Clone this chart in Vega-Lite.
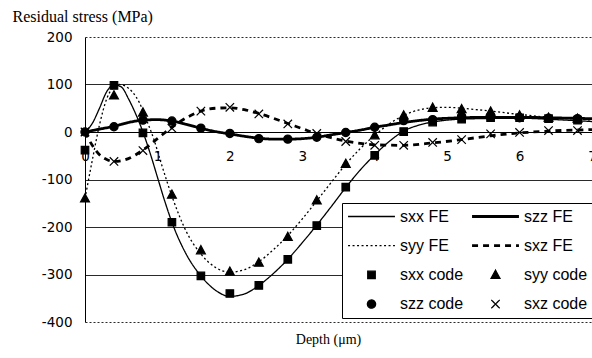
{
  "$schema": "https://vega.github.io/schema/vega-lite/v6.json",
  "autosize": {"type": "none"},
  "padding": {"left": 85, "top": 37, "right": 0, "bottom": 36},
  "width": 507,
  "height": 285,
  "background": "white",
  "config": {"view": {"stroke": null}},
  "datasets": {
    "fe": [
      {"d": 0, "s": 0, "series": "sxx FE"}, {"d": 0.1, "s": 18, "series": "sxx FE"}, {"d": 0.2, "s": 50, "series": "sxx FE"}, {"d": 0.3, "s": 85, "series": "sxx FE"}, {"d": 0.4, "s": 99, "series": "sxx FE"}, {"d": 0.5, "s": 95, "series": "sxx FE"}, {"d": 0.6, "s": 70, "series": "sxx FE"}, {"d": 0.7, "s": 38, "series": "sxx FE"}, {"d": 0.8, "s": 0, "series": "sxx FE"}, {"d": 0.9, "s": -45, "series": "sxx FE"}, {"d": 1.0, "s": -95, "series": "sxx FE"}, {"d": 1.1, "s": -145, "series": "sxx FE"}, {"d": 1.2, "s": -190, "series": "sxx FE"}, {"d": 1.4, "s": -258, "series": "sxx FE"}, {"d": 1.6, "s": -303, "series": "sxx FE"}, {"d": 1.8, "s": -333, "series": "sxx FE"}, {"d": 2.0, "s": -346, "series": "sxx FE"}, {"d": 2.2, "s": -341, "series": "sxx FE"}, {"d": 2.4, "s": -323, "series": "sxx FE"}, {"d": 2.6, "s": -298, "series": "sxx FE"}, {"d": 2.8, "s": -268, "series": "sxx FE"}, {"d": 3.0, "s": -233, "series": "sxx FE"}, {"d": 3.2, "s": -196, "series": "sxx FE"}, {"d": 3.4, "s": -157, "series": "sxx FE"}, {"d": 3.6, "s": -117, "series": "sxx FE"}, {"d": 3.8, "s": -80, "series": "sxx FE"}, {"d": 4.0, "s": -48, "series": "sxx FE"}, {"d": 4.2, "s": -20, "series": "sxx FE"}, {"d": 4.4, "s": 2, "series": "sxx FE"}, {"d": 4.6, "s": 14, "series": "sxx FE"}, {"d": 4.8, "s": 21, "series": "sxx FE"}, {"d": 5.0, "s": 25, "series": "sxx FE"}, {"d": 5.4, "s": 28, "series": "sxx FE"}, {"d": 6.0, "s": 29, "series": "sxx FE"}, {"d": 6.5, "s": 26, "series": "sxx FE"}, {"d": 7.0, "s": 22, "series": "sxx FE"},

      {"d": 0, "s": 0, "series": "szz FE"}, {"d": 0.2, "s": 6, "series": "szz FE"}, {"d": 0.4, "s": 12, "series": "szz FE"}, {"d": 0.6, "s": 20, "series": "szz FE"}, {"d": 0.8, "s": 25, "series": "szz FE"}, {"d": 1.0, "s": 26, "series": "szz FE"}, {"d": 1.2, "s": 23, "series": "szz FE"}, {"d": 1.4, "s": 16, "series": "szz FE"}, {"d": 1.6, "s": 8, "series": "szz FE"}, {"d": 1.8, "s": 1, "series": "szz FE"}, {"d": 2.0, "s": -4, "series": "szz FE"}, {"d": 2.2, "s": -9, "series": "szz FE"}, {"d": 2.4, "s": -13, "series": "szz FE"}, {"d": 2.6, "s": -15, "series": "szz FE"}, {"d": 2.8, "s": -15, "series": "szz FE"}, {"d": 3.0, "s": -14, "series": "szz FE"}, {"d": 3.2, "s": -11, "series": "szz FE"}, {"d": 3.4, "s": -6, "series": "szz FE"}, {"d": 3.6, "s": -1, "series": "szz FE"}, {"d": 3.8, "s": 4, "series": "szz FE"}, {"d": 4.0, "s": 10, "series": "szz FE"}, {"d": 4.2, "s": 15, "series": "szz FE"}, {"d": 4.4, "s": 20, "series": "szz FE"}, {"d": 4.6, "s": 24, "series": "szz FE"}, {"d": 4.8, "s": 27, "series": "szz FE"}, {"d": 5.2, "s": 30, "series": "szz FE"}, {"d": 5.6, "s": 31, "series": "szz FE"}, {"d": 6.0, "s": 31, "series": "szz FE"}, {"d": 6.4, "s": 30, "series": "szz FE"}, {"d": 7.0, "s": 28, "series": "szz FE"},

      {"d": 0, "s": -140, "series": "syy FE"}, {"d": 0.1, "s": -60, "series": "syy FE"}, {"d": 0.2, "s": 15, "series": "syy FE"}, {"d": 0.3, "s": 70, "series": "syy FE"}, {"d": 0.4, "s": 95, "series": "syy FE"}, {"d": 0.47, "s": 100, "series": "syy FE"}, {"d": 0.55, "s": 97, "series": "syy FE"}, {"d": 0.65, "s": 85, "series": "syy FE"}, {"d": 0.75, "s": 62, "series": "syy FE"}, {"d": 0.85, "s": 25, "series": "syy FE"}, {"d": 0.95, "s": -15, "series": "syy FE"}, {"d": 1.05, "s": -65, "series": "syy FE"}, {"d": 1.2, "s": -135, "series": "syy FE"}, {"d": 1.4, "s": -210, "series": "syy FE"}, {"d": 1.6, "s": -257, "series": "syy FE"}, {"d": 1.8, "s": -285, "series": "syy FE"}, {"d": 2.0, "s": -295, "series": "syy FE"}, {"d": 2.2, "s": -290, "series": "syy FE"}, {"d": 2.4, "s": -273, "series": "syy FE"}, {"d": 2.6, "s": -248, "series": "syy FE"}, {"d": 2.8, "s": -218, "series": "syy FE"}, {"d": 3.0, "s": -183, "series": "syy FE"}, {"d": 3.2, "s": -145, "series": "syy FE"}, {"d": 3.4, "s": -106, "series": "syy FE"}, {"d": 3.6, "s": -68, "series": "syy FE"}, {"d": 3.8, "s": -35, "series": "syy FE"}, {"d": 4.0, "s": -7, "series": "syy FE"}, {"d": 4.2, "s": 17, "series": "syy FE"}, {"d": 4.4, "s": 35, "series": "syy FE"}, {"d": 4.6, "s": 46, "series": "syy FE"}, {"d": 4.8, "s": 51, "series": "syy FE"}, {"d": 5.0, "s": 52, "series": "syy FE"}, {"d": 5.2, "s": 50, "series": "syy FE"}, {"d": 5.6, "s": 44, "series": "syy FE"}, {"d": 6.0, "s": 37, "series": "syy FE"}, {"d": 6.4, "s": 31, "series": "syy FE"}, {"d": 7.0, "s": 25, "series": "syy FE"},

      {"d": 0, "s": 0, "series": "sxz FE"}, {"d": 0.1, "s": -28, "series": "sxz FE"}, {"d": 0.2, "s": -48, "series": "sxz FE"}, {"d": 0.3, "s": -58, "series": "sxz FE"}, {"d": 0.4, "s": -62, "series": "sxz FE"}, {"d": 0.6, "s": -56, "series": "sxz FE"}, {"d": 0.8, "s": -38, "series": "sxz FE"}, {"d": 1.0, "s": -14, "series": "sxz FE"}, {"d": 1.2, "s": 10, "series": "sxz FE"}, {"d": 1.4, "s": 30, "series": "sxz FE"}, {"d": 1.6, "s": 44, "series": "sxz FE"}, {"d": 1.8, "s": 50, "series": "sxz FE"}, {"d": 2.0, "s": 51, "series": "sxz FE"}, {"d": 2.2, "s": 47, "series": "sxz FE"}, {"d": 2.4, "s": 39, "series": "sxz FE"}, {"d": 2.6, "s": 29, "series": "sxz FE"}, {"d": 2.8, "s": 18, "series": "sxz FE"}, {"d": 3.0, "s": 7, "series": "sxz FE"}, {"d": 3.2, "s": -4, "series": "sxz FE"}, {"d": 3.4, "s": -12, "series": "sxz FE"}, {"d": 3.6, "s": -19, "series": "sxz FE"}, {"d": 3.8, "s": -24, "series": "sxz FE"}, {"d": 4.0, "s": -27, "series": "sxz FE"}, {"d": 4.4, "s": -28, "series": "sxz FE"}, {"d": 4.8, "s": -23, "series": "sxz FE"}, {"d": 5.2, "s": -16, "series": "sxz FE"}, {"d": 5.6, "s": -8, "series": "sxz FE"}, {"d": 6.0, "s": -2, "series": "sxz FE"}, {"d": 6.4, "s": 2, "series": "sxz FE"}, {"d": 7.0, "s": 5, "series": "sxz FE"}
    ],
    "code": [
      {"d": 0, "s": -38, "series": "sxx code"}, {"d": 0.4, "s": 98, "series": "sxx code"}, {"d": 0.8, "s": -2, "series": "sxx code"}, {"d": 1.2, "s": -190, "series": "sxx code"}, {"d": 1.6, "s": -303, "series": "sxx code"}, {"d": 2.0, "s": -340, "series": "sxx code"}, {"d": 2.4, "s": -323, "series": "sxx code"}, {"d": 2.8, "s": -268, "series": "sxx code"}, {"d": 3.2, "s": -197, "series": "sxx code"}, {"d": 3.6, "s": -116, "series": "sxx code"}, {"d": 4.0, "s": -49, "series": "sxx code"}, {"d": 4.4, "s": 1, "series": "sxx code"}, {"d": 4.8, "s": 21, "series": "sxx code"}, {"d": 5.2, "s": 27, "series": "sxx code"}, {"d": 5.6, "s": 30, "series": "sxx code"}, {"d": 6.0, "s": 30, "series": "sxx code"}, {"d": 6.4, "s": 28, "series": "sxx code"}, {"d": 6.8, "s": 25, "series": "sxx code"},

      {"d": 0, "s": -140, "series": "syy code"}, {"d": 0.4, "s": 77, "series": "syy code"}, {"d": 0.8, "s": 41, "series": "syy code"}, {"d": 1.2, "s": -132, "series": "syy code"}, {"d": 1.6, "s": -249, "series": "syy code"}, {"d": 2.0, "s": -294, "series": "syy code"}, {"d": 2.4, "s": -275, "series": "syy code"}, {"d": 2.8, "s": -221, "series": "syy code"}, {"d": 3.2, "s": -144, "series": "syy code"}, {"d": 3.6, "s": -67, "series": "syy code"}, {"d": 4.0, "s": -7, "series": "syy code"}, {"d": 4.4, "s": 35, "series": "syy code"}, {"d": 4.8, "s": 51, "series": "syy code"}, {"d": 5.2, "s": 48, "series": "syy code"}, {"d": 5.6, "s": 43, "series": "syy code"}, {"d": 6.0, "s": 35, "series": "syy code"}, {"d": 6.4, "s": 30, "series": "syy code"}, {"d": 6.8, "s": 28, "series": "syy code"},

      {"d": 0, "s": 0, "series": "szz code"}, {"d": 0.4, "s": 11, "series": "szz code"}, {"d": 0.8, "s": 25, "series": "szz code"}, {"d": 1.2, "s": 23, "series": "szz code"}, {"d": 1.6, "s": 8, "series": "szz code"}, {"d": 2.0, "s": -3, "series": "szz code"}, {"d": 2.4, "s": -14, "series": "szz code"}, {"d": 2.8, "s": -15, "series": "szz code"}, {"d": 3.2, "s": -11, "series": "szz code"}, {"d": 3.6, "s": -1, "series": "szz code"}, {"d": 4.0, "s": 10, "series": "szz code"}, {"d": 4.4, "s": 24, "series": "szz code"}, {"d": 4.8, "s": 26, "series": "szz code"}, {"d": 5.2, "s": 33, "series": "szz code"}, {"d": 5.6, "s": 31, "series": "szz code"}, {"d": 6.0, "s": 30, "series": "szz code"}, {"d": 6.4, "s": 29, "series": "szz code"}, {"d": 6.8, "s": 28, "series": "szz code"},

      {"d": 0, "s": 0, "series": "sxz code"}, {"d": 0.4, "s": -62, "series": "sxz code"}, {"d": 0.8, "s": -39, "series": "sxz code"}, {"d": 1.2, "s": 8, "series": "sxz code"}, {"d": 1.6, "s": 44, "series": "sxz code"}, {"d": 2.0, "s": 52, "series": "sxz code"}, {"d": 2.4, "s": 38, "series": "sxz code"}, {"d": 2.8, "s": 17, "series": "sxz code"}, {"d": 3.2, "s": -3, "series": "sxz code"}, {"d": 3.6, "s": -20, "series": "sxz code"}, {"d": 4.0, "s": -28, "series": "sxz code"}, {"d": 4.4, "s": -28, "series": "sxz code"}, {"d": 4.8, "s": -22, "series": "sxz code"}, {"d": 5.2, "s": -16, "series": "sxz code"}, {"d": 5.6, "s": -4, "series": "sxz code"}, {"d": 6.0, "s": -1, "series": "sxz code"}, {"d": 6.4, "s": 3, "series": "sxz code"}, {"d": 6.8, "s": 3, "series": "sxz code"}
    ]
  },
  "encoding": {
    "x": {
      "field": "d", "type": "quantitative",
      "scale": {"domain": [0, 7], "nice": false, "zero": false},
      "axis": {
        "values": [0, 1, 2, 3, 4, 5, 6, 7],
        "offset": -190,
        "grid": false,
        "ticks": false, "tickSize": 0,
        "domainColor": "black", "domainWidth": 1,
        "labelFont": "DejaVu Sans", "labelFontSize": 13.5, "labelColor": "black",
        "labelPadding": 17, "labelFlush": false, "labelOverlap": false, "labelBound": false,
        "title": "Depth (μm)",
        "titleFont": "Liberation Serif", "titleFontSize": 14, "titleFontWeight": "normal", "titleColor": "black",
        "titleX": 243, "titleY": 211, "titleAlign": "center", "titleBaseline": "alphabetic", "titleAnchor": null
      }
    },
    "y": {
      "field": "s", "type": "quantitative",
      "scale": {"domain": [-400, 200], "nice": false, "zero": false},
      "axis": {
        "values": [-400, -300, -200, -100, 0, 100, 200],
        "labelExpr": "replace(datum.label, '\u2212', '-')",
        "grid": true,
        "gridColor": "#2a2a2a",
        "gridDash": {"condition": {"test": "datum.value == 200 || datum.value == -400", "value": [2, 2]}, "value": []},
        "ticks": false, "tickSize": 0,
        "domainColor": "black", "domainWidth": 1,
        "labelFont": "DejaVu Sans", "labelFontSize": 13.5, "labelColor": "black",
        "labelPadding": 13, "labelFlush": false, "labelOverlap": false,
        "title": "Residual stress (MPa)",
        "titleFont": "Liberation Serif", "titleFontSize": 16, "titleFontWeight": "normal", "titleColor": "black",
        "titleAngle": 0, "titleAlign": "left", "titleBaseline": "alphabetic",
        "titleX": -73, "titleY": -16
      }
    }
  },
  "layer": [
    {
      "data": {"name": "fe"},
      "transform": [{"filter": "datum.series == 'sxx FE' || datum.series == 'syy FE'"}],
      "mark": {"type": "line", "color": "black", "interpolate": "monotone", "strokeWidth": 1.3},
      "encoding": {
        "strokeDash": {
          "field": "series", "type": "nominal",
          "scale": {
            "domain": ["sxx FE", "szz FE", "syy FE", "sxz FE", "sxx code", "syy code", "szz code", "sxz code"],
            "range": [[1, 0], [1, 0], [2, 2.5], [6, 5], [1, 0], [1, 0], [1, 0], [1, 0]]
          },
          "legend": {
            "orient": "none", "legendX": 257, "legendY": 166, "columns": 2, "direction": "horizontal", "title": null,
            "strokeColor": "black", "fillColor": "white", "padding": 5,
            "clipHeight": 17, "rowPadding": 12.2, "columnPadding": 7, "labelOffset": 4,
            "labelFont": "Liberation Sans", "labelFontSize": 16, "labelColor": "black",
            "symbolSize": 2200, "symbolFillColor": "black", "symbolStrokeColor": "black", "symbolOpacity": 1, "symbolStrokeWidth": 1.5,
            "encode": {"symbols": {"update": {
              "fill": {"value": "black"}, "stroke": {"value": "black"}, "opacity": {"value": 1},
              "strokeWidth": {"signal": "((datum.value == 'szz FE' || datum.value == 'sxz FE') ? 2.8 : 1.3)"}
            }}}
          }
        }
      }
    },
    {
      "data": {"name": "fe"},
      "transform": [{"filter": "datum.series == 'szz FE' || datum.series == 'sxz FE'"}],
      "mark": {"type": "line", "color": "black", "interpolate": "monotone", "strokeWidth": 2.8},
      "encoding": {
        "strokeDash": {"field": "series", "type": "nominal"}
      }
    },
    {
      "data": {"name": "code"},
      "mark": {"type": "point", "filled": true, "color": "black", "stroke": "black", "strokeWidth": 1.2, "opacity": 1, "size": 2200},
      "encoding": {
        "shape": {
          "field": "series", "type": "nominal",
          "scale": {
            "domain": ["sxx FE", "szz FE", "syy FE", "sxz FE", "sxx code", "syy code", "szz code", "sxz code"],
            "range": ["stroke", "stroke", "stroke", "stroke",
              "M-0.16,-0.16L0.16,-0.16L0.16,0.16L-0.16,0.16Z",
              "M0,-0.2L0.19,0.15L-0.19,0.15Z",
              "M0.175,0A0.175,0.175,0,1,1,-0.175,0A0.175,0.175,0,1,1,0.175,0Z",
              "M-0.18,-0.18L0.18,0.18M0.18,-0.18L-0.18,0.18"]
          },
          "legend": {
            "orient": "none", "legendX": 257, "legendY": 166, "columns": 2, "direction": "horizontal", "title": null,
            "strokeColor": "black", "fillColor": "white", "padding": 5,
            "clipHeight": 17, "rowPadding": 12.2, "columnPadding": 7, "labelOffset": 4,
            "labelFont": "Liberation Sans", "labelFontSize": 16, "labelColor": "black",
            "symbolSize": 2200, "symbolFillColor": "black", "symbolStrokeColor": "black", "symbolOpacity": 1, "symbolStrokeWidth": 1.5,
            "encode": {"symbols": {"update": {
              "fill": {"value": "black"}, "stroke": {"value": "black"}, "opacity": {"value": 1},
              "strokeWidth": {"signal": "((datum.value == 'szz FE' || datum.value == 'sxz FE') ? 2.8 : 1.3)"}
            }}}
          }
        }
      }
    }
  ]
}
